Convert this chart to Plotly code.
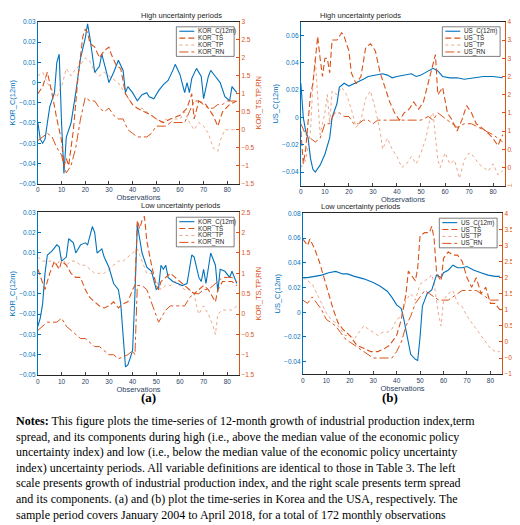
import plotly.graph_objects as go

# Korea, high uncertainty
kor_hi_c_x = [0,1,2,3,5,7,8,9,10,11,12,14,16,18,20,21,22,24,26,27,29,30,32,34,36,37,38,40,42,44,46,47,49,51,53,55,57,58,60,61,62,63,64,65,67,69,70,72,73,75,77,79,81,82,84]
kor_hi_c = [-0.02,-0.028,-0.03,-0.028,-0.012,-0.005,0.01,0.014,-0.02,-0.045,-0.027,-0.02,-0.005,0.012,0.022,0.029,0.022,0.005,0.008,0.014,0.005,0.0,0.005,0.011,0.006,-0.005,-0.002,-0.005,-0.009,-0.006,-0.005,-0.007,-0.008,-0.004,-0.001,0.001,0.006,0.009,0.004,0.0,-0.005,0.0,-0.005,0.002,0.007,0.003,-0.008,0.003,0.006,0.003,0.0,-0.007,-0.009,-0.002,-0.005]
kor_hi_ts_x = [0,2,4,6,8,9,10,11,12,13,15,17,19,20,21,22,24,26,28,30,31,33,35,37,40,42,45,48,50,53,56,60,63,65,66,68,71,74,76,78,81,84]
kor_hi_ts = [1.0,1.2,1.6,1.0,0.3,0.0,-0.3,-1.0,-0.8,-1.0,0.0,1.5,2.6,2.8,2.7,2.4,2.3,2.0,2.2,2.3,2.1,1.8,1.7,1.0,0.7,0.6,0.5,0.4,0.3,0.2,0.3,0.4,0.6,1.0,0.3,0.8,0.7,0.4,0.1,0.5,0.7,0.8]
kor_hi_tp_x = [0,2,4,6,8,10,12,14,16,18,20,22,24,26,28,30,32,34,36,38,40,42,44,46,48,50,52,54,56,58,60,62,64,66,68,70,72,74,76,77,79,82,84]
kor_hi_tp = [1.5,1.6,1.3,1.1,0.9,1.2,1.7,1.5,1.7,1.8,2.0,1.9,1.6,1.5,1.6,1.5,1.4,1.3,1.1,0.9,0.7,0.6,0.6,0.5,0.4,0.3,0.2,0.3,0.2,0.3,0.3,0.5,0.2,0.0,0.2,0.1,-0.1,-0.5,-0.6,-0.3,0.0,0.0,0.0]
kor_hi_rn_x = [0,2,4,6,8,10,11,12,14,16,18,20,22,24,26,28,30,32,34,36,38,40,42,44,46,48,50,52,54,56,58,60,62,64,66,68,70,72,74,76,78,80,82,84]
kor_hi_rn = [-0.3,-0.2,-0.1,-0.2,-0.5,-0.7,-1.0,-1.2,-1.0,-0.5,0.3,0.9,0.8,0.8,0.6,0.5,0.6,0.4,0.3,0.3,0.0,-0.1,-0.2,-0.2,-0.2,-0.1,0.1,0.1,0.1,0.2,0.2,0.2,0.2,0.5,0.8,0.8,0.7,0.6,0.6,0.7,0.7,0.8,0.8,0.8]

# USA, high uncertainty
us_hi_c_x = [0,1,2,3,4,5,6,8,10,12,13,15,16,18,20,24,26,28,32,34,36,38,40,44,46,48,50,52,55,57,59,62,65,68,72,76,80,84]
us_hi_c = [0.025,0.0,-0.01,-0.015,-0.03,-0.038,-0.04,-0.035,-0.027,-0.015,0.0,0.01,0.022,0.025,0.023,0.026,0.028,0.030,0.031,0.032,0.031,0.029,0.030,0.031,0.032,0.030,0.031,0.033,0.036,0.034,0.030,0.029,0.029,0.028,0.029,0.030,0.030,0.029]
us_hi_ts_x = [0,1,2,3,4,5,6,7,8,9,10,11,12,13,15,17,18,20,21,23,25,27,29,31,33,35,37,39,41,43,45,47,49,51,53,55,56,57,59,61,63,65,67,69,71,73,75,77,80,82,84]
us_hi_ts = [1.0,0.1,0.5,1.2,2.0,2.3,3.0,3.6,3.0,2.5,3.0,3.0,2.6,3.5,3.5,3.7,3.6,3.2,2.6,2.3,2.5,3.3,3.4,3.2,2.6,2.2,1.8,1.5,1.3,1.5,1.6,1.8,1.6,1.8,2.3,2.8,3.1,2.0,2.2,1.5,1.3,1.0,1.3,1.7,1.5,1.2,1.1,1.0,0.8,0.6,0.9]
us_hi_tp_x = [0,2,4,5,6,7,8,10,11,12,13,15,17,19,21,23,25,27,29,31,33,34,36,38,40,42,44,46,48,50,52,54,55,57,58,60,62,64,66,68,70,72,74,76,78,80,82,84]
us_hi_tp = [0.0,0.2,1.0,2.3,3.0,2.0,0.9,1.5,2.0,1.2,2.1,2.0,2.2,2.0,1.6,1.1,1.3,1.9,2.1,1.6,1.0,0.5,0.8,0.5,0.3,0.0,0.1,0.3,0.1,0.4,0.8,1.4,1.5,0.2,0.0,0.4,0.1,0.2,-0.3,0.2,0.4,0.3,0.1,0.0,-0.1,0.1,-0.2,-0.1]
us_hi_rn_x = [0,2,4,6,8,10,12,14,16,18,20,22,24,26,28,30,32,35,38,41,44,47,50,53,55,57,59,61,63,65,68,71,74,77,80,82,84]
us_hi_rn = [1.2,0.9,0.8,0.7,0.8,1.2,1.2,1.5,1.5,1.4,1.4,1.2,1.2,1.3,1.3,1.2,1.3,1.3,1.3,1.3,1.3,1.3,1.3,1.4,1.3,1.5,1.4,1.3,1.2,1.1,1.2,1.2,1.1,1.0,0.9,0.8,0.7]

# Korea, low uncertainty
kor_lo_c_x = [0,1,2,3,4,6,8,9,10,12,13,15,16,18,20,21,23,24,25,27,28,30,32,34,35,36,37,38,40,41,42,44,46,48,50,51,52,53,54,55,57,59,61,63,65,66,68,69,70,71,73,75,76,77,79,81,82,84]
kor_lo_c = [-0.026,-0.022,-0.015,0.0,0.009,0.011,0.014,0.013,0.006,0.008,0.017,0.015,0.010,0.014,0.015,0.014,0.023,0.020,0.010,0.012,0.008,0.003,-0.005,-0.008,-0.015,-0.030,-0.046,-0.045,-0.038,-0.010,0.024,0.010,0.003,0.001,-0.008,-0.007,0.004,0.002,0.004,-0.002,-0.004,-0.005,-0.006,-0.005,0.009,0.008,-0.002,-0.004,0.002,-0.005,0.010,0.004,-0.009,0.002,0.001,-0.002,0.001,-0.005]
kor_lo_ts_x = [0,2,3,5,7,9,10,12,14,16,18,20,22,24,26,28,30,32,34,36,38,40,41,42,43,44,45,46,48,50,51,52,54,56,58,60,62,64,66,68,70,72,74,75,76,78,80,82,84]
kor_lo_ts = [1.1,0.8,0.6,1.0,1.3,1.1,1.3,1.2,1.0,0.9,0.9,0.6,0.4,0.3,0.2,0.15,0.2,0.3,0.15,0.25,0.3,0.6,0.7,2.3,2.1,2.3,2.4,1.8,1.2,0.7,0.6,0.8,0.9,1.0,0.9,0.8,0.7,0.6,0.5,0.6,0.7,0.6,0.4,0.3,0.6,0.8,0.8,0.8,0.7]
kor_lo_tp_x = [0,2,4,6,8,10,12,14,16,18,20,22,24,26,28,30,32,34,36,38,40,42,44,46,48,50,52,54,56,58,60,62,64,66,67,68,70,72,74,75,76,78,80,82,84]
kor_lo_tp = [1.4,1.3,1.3,1.3,1.2,1.4,1.2,1.3,1.3,1.2,1.2,1.1,1.0,1.0,1.0,1.1,1.2,1.3,1.3,1.4,1.5,1.6,1.3,1.0,1.0,0.8,0.6,0.7,0.7,0.8,0.7,0.6,0.6,0.5,0.2,0.0,0.2,0.0,-0.3,-0.5,0.0,0.1,0.1,0.1,0.2]
kor_lo_rn_x = [0,2,4,6,8,10,12,14,16,18,20,22,24,26,28,30,32,34,36,38,40,41,42,44,46,48,50,51,52,54,56,58,60,62,64,66,68,70,72,74,76,78,80,82,84]
kor_lo_rn = [-0.4,-0.3,-0.2,-0.2,-0.2,-0.1,-0.3,-0.4,-0.5,-0.6,-0.6,-0.7,-0.8,-0.8,-0.9,-1.0,-1.0,-1.1,-1.05,-1.0,-0.9,-1.0,0.7,0.7,0.6,0.3,0.0,-0.2,-0.1,0.1,0.2,0.2,0.2,0.2,0.4,0.5,0.5,0.6,0.6,0.7,0.8,0.9,0.9,0.9,0.8]

# USA, low uncertainty
us_lo_c_x = [0,2,5,8,11,14,17,19,22,26,30,33,36,38,40,42,43,45,46,48,49,50,51,52,53,55,57,59,60,62,64,66,68,70,73,76,79,82,84]
us_lo_c = [0.028,0.028,0.029,0.030,0.032,0.033,0.031,0.031,0.029,0.027,0.024,0.021,0.017,0.012,0.006,0.003,-0.005,-0.025,-0.034,-0.038,-0.039,-0.020,0.005,0.010,0.015,0.018,0.030,0.028,0.032,0.034,0.038,0.036,0.036,0.037,0.034,0.032,0.030,0.029,0.029]
us_lo_ts_x = [0,2,3,5,7,9,11,13,15,17,20,23,26,29,32,35,37,40,42,44,45,47,48,49,50,52,54,55,56,57,58,59,60,62,64,66,68,70,72,74,76,78,80,82,84]
us_lo_ts = [3.2,3.0,3.2,2.9,2.5,2.0,1.5,1.0,0.6,0.4,0.2,-0.1,-0.2,-0.3,-0.3,-0.2,-0.1,0.2,0.7,1.5,2.2,2.0,1.9,2.3,3.3,3.4,3.4,3.6,3.2,2.2,2.0,1.9,2.6,2.8,2.7,2.7,2.5,2.0,1.7,2.0,1.5,1.7,1.2,1.2,1.0]
us_lo_tp_x = [0,2,4,6,8,10,12,14,16,18,20,22,24,26,28,30,32,34,36,38,40,42,44,46,48,50,52,54,55,56,58,59,60,62,64,66,68,70,72,74,76,78,80,82,84]
us_lo_tp = [2.0,1.9,1.8,1.5,1.2,0.9,0.7,0.6,0.4,0.2,0.2,0.1,0.3,0.5,0.4,0.3,0.2,0.3,0.3,0.4,0.7,0.8,1.3,1.5,1.3,1.8,1.9,2.0,2.1,1.8,0.8,0.5,1.3,1.5,1.6,1.2,1.1,0.8,0.6,0.4,0.2,0.0,-0.2,-0.3,-0.3]
us_lo_rn_x = [0,2,4,6,8,10,12,14,16,18,20,22,24,26,28,30,32,34,36,38,40,42,44,46,48,50,52,54,56,58,60,62,64,66,68,70,72,74,76,78,80,82,84]
us_lo_rn = [1.3,1.2,1.4,1.2,1.0,0.7,0.6,0.5,0.3,0.1,0.0,-0.1,-0.2,-0.3,-0.4,-0.5,-0.5,-0.5,-0.5,-0.5,-0.3,0.0,0.5,0.8,1.2,1.4,1.6,1.5,1.4,1.3,1.3,1.3,1.4,1.5,1.6,1.6,1.6,1.6,1.5,1.4,1.3,1.3,1.3]

BLUE = "#0072BD"
ORANGE = "#D95319"
FONT = "Liberation Sans"
W, H = 520, 525

panels = [
    dict(cc="KOR", title="High uncertainty periods", box=(28, 230, 10, 174),
         yl=[-0.05, 0.03], ylt=[-0.05, -0.04, -0.03, -0.02, -0.01, 0, 0.01, 0.02, 0.03],
         yr=[-1.5, 3], yrt=[-1.5, -1, -0.5, 0, 0.5, 1, 1.5, 2, 2.5, 3],
         data=[(kor_hi_c_x, kor_hi_c), (kor_hi_ts_x, kor_hi_ts), (kor_hi_tp_x, kor_hi_tp), (kor_hi_rn_x, kor_hi_rn)]),
    dict(cc="US", title="High uncertainty periods", box=(292, 497, 10, 176),
         yl=[-0.05, 0.07], ylt=[-0.04, -0.02, 0, 0.02, 0.04, 0.06],
         yr=[-0.5, 4], yrt=[-0.5, 0, 0.5, 1, 1.5, 2, 2.5, 3, 3.5, 4],
         data=[(us_hi_c_x, us_hi_c), (us_hi_ts_x, us_hi_ts), (us_hi_tp_x, us_hi_tp), (us_hi_rn_x, us_hi_rn)]),
    dict(cc="KOR", title="Low uncertainty periods", box=(28, 230, 203, 368),
         yl=[-0.05, 0.03], ylt=[-0.05, -0.04, -0.03, -0.02, -0.01, 0, 0.01, 0.02, 0.03],
         yr=[-1.5, 2.5], yrt=[-1.5, -1, -0.5, 0, 0.5, 1, 1.5, 2, 2.5],
         data=[(kor_lo_c_x, kor_lo_c), (kor_lo_ts_x, kor_lo_ts), (kor_lo_tp_x, kor_lo_tp), (kor_lo_rn_x, kor_lo_rn)]),
    dict(cc="US", title="Low uncertainty periods", box=(294, 494, 204, 367),
         yl=[-0.05, 0.08], ylt=[-0.04, -0.02, 0, 0.02, 0.04, 0.06, 0.08],
         yr=[-1, 4], yrt=[-1, -0.5, 0, 0.5, 1, 1.5, 2, 2.5, 3, 3.5, 4],
         data=[(us_lo_c_x, us_lo_c), (us_lo_ts_x, us_lo_ts), (us_lo_tp_x, us_lo_tp), (us_lo_rn_x, us_lo_rn)]),
]

styles = [
    dict(color=BLUE, width=1.1, dash="solid"),
    dict(color=ORANGE, width=1.1, dash="6px,3px"),
    dict(color="rgba(217,83,25,0.5)", width=1.0, dash="dot"),
    dict(color=ORANGE, width=1.0, dash="dashdot"),
]
suffixes = ["_C(12m)", "_TS", "_TP", "_RN"]

fig = go.Figure()
layout = {}
tickfont = dict(family=FONT, size=6.5)

for i, p in enumerate(panels):
    k = i + 1
    x0, x1, yt, yb = p["box"]
    xd = [x0 / W, x1 / W]
    yd = [1 - yb / H, 1 - yt / H]
    xa = "x" if k == 1 else f"x{k}"
    yl = f"y{2 * k - 1}" if k > 1 else "y"
    yr = f"y{2 * k}"

    for j, (xs, ys) in enumerate(p["data"]):
        fig.add_trace(go.Scatter(
            x=xs, y=ys, mode="lines", name=p["cc"] + suffixes[j], showlegend=False,
            line=styles[j], xaxis=xa, yaxis=yl if j == 0 else yr))

    xkey = "xaxis" if k == 1 else f"xaxis{k}"
    ylkey = "yaxis" if k == 1 else f"yaxis{2 * k - 1}"
    yrkey = f"yaxis{2 * k}"
    layout[xkey] = dict(domain=xd, anchor=yl, range=[0, 85], tickvals=list(range(0, 81, 10)),
                        showgrid=False, zeroline=False, showline=True, linecolor="#262626",
                        mirror=True, ticks="inside", ticklen=3, tickfont=tickfont,
                        title=dict(text="Observations", font=dict(family=FONT, size=7.5), standoff=1))
    layout[ylkey] = dict(domain=yd, anchor=xa, range=p["yl"], tickvals=p["ylt"],
                         showgrid=False, zeroline=False, showline=True, linecolor=BLUE,
                         ticks="inside", ticklen=3, tickcolor=BLUE, tickfont=dict(family=FONT, size=6.5, color=BLUE),
                         title=dict(text=p["cc"] + "_C(12m)", font=dict(family=FONT, size=7.5, color=BLUE), standoff=2))
    layout[yrkey] = dict(domain=yd, anchor=xa, overlaying=yl, side="right", range=p["yr"], tickvals=p["yrt"],
                         showgrid=False, zeroline=False, showline=True, linecolor=ORANGE,
                         ticks="inside", ticklen=3, tickcolor=ORANGE, tickfont=dict(family=FONT, size=6.5, color=ORANGE),
                         title=dict(text=p["cc"] + "_TS,TP,RN", font=dict(family=FONT, size=7.5, color=ORANGE), standoff=2))
    fig.add_annotation(x=(xd[0] + xd[1]) / 2, y=yd[1], xref="paper", yref="paper", yanchor="bottom",
                       text=p["title"], showarrow=False, font=dict(family=FONT, size=7.5, color="#262626"))

    # compact MATLAB-style legend box in the upper-right corner of each panel
    bx1, by0 = x1 - 5, yt + 5
    bx0, by1 = bx1 - 58, by0 + 30
    fig.add_shape(type="rect", xref="paper", yref="paper", x0=bx0 / W, x1=bx1 / W,
                  y0=1 - by1 / H, y1=1 - by0 / H, line=dict(color="#262626", width=0.6),
                  fillcolor="white", layer="above")
    for j in range(4):
        ry = by0 + 4.5 + j * 7
        fig.add_shape(type="line", xref="paper", yref="paper", x0=(bx0 + 3) / W, x1=(bx0 + 18) / W,
                      y0=1 - ry / H, y1=1 - ry / H, line=styles[j], layer="above")
        fig.add_annotation(x=(bx0 + 20) / W, y=1 - ry / H, xref="paper", yref="paper",
                           xanchor="left", yanchor="middle", text=p["cc"] + suffixes[j], showarrow=False,
                           font=dict(family=FONT, size=6.3, color="#262626"))

fig.add_annotation(x=129 / W, y=1 - 400 / H, xref="paper", yref="paper", text="<b>(a)</b>",
                   showarrow=False, font=dict(family="Liberation Serif", size=13, color="black"))
fig.add_annotation(x=392 / W, y=1 - 400 / H, xref="paper", yref="paper", text="<b>(b)</b>",
                   showarrow=False, font=dict(family="Liberation Serif", size=13, color="black"))

notes = ("<b>Notes:</b> This figure plots the time-series of 12-month growth of industrial production index,term<br>"
         "spread, and its components during high (i.e., above the median value of the economic policy<br>"
         "uncertainty index) and low (i.e., below the median value of the economic policy uncertainty<br>"
         "index) uncertainty periods. All variable definitions are identical to those in Table 3. The left<br>"
         "scale presents growth of industrial production index, and the right scale presents term spread<br>"
         "and its components. (a) and (b) plot the time-series in Korea and the USA, respectively. The<br>"
         "sample period covers January 2004 to April 2018, for a total of 172 monthly observations")
fig.add_annotation(x=4 / W, y=1 - 405 / H, xref="paper", yref="paper", xanchor="left", yanchor="top",
                   align="left", text=notes, showarrow=False,
                   font=dict(family="Liberation Serif", size=12, color="black"))

fig.update_layout(width=W, height=H, margin=dict(l=0, r=0, t=0, b=0),
                  paper_bgcolor="white", plot_bgcolor="white", showlegend=False, **layout)
fig.write_html("out.html")
